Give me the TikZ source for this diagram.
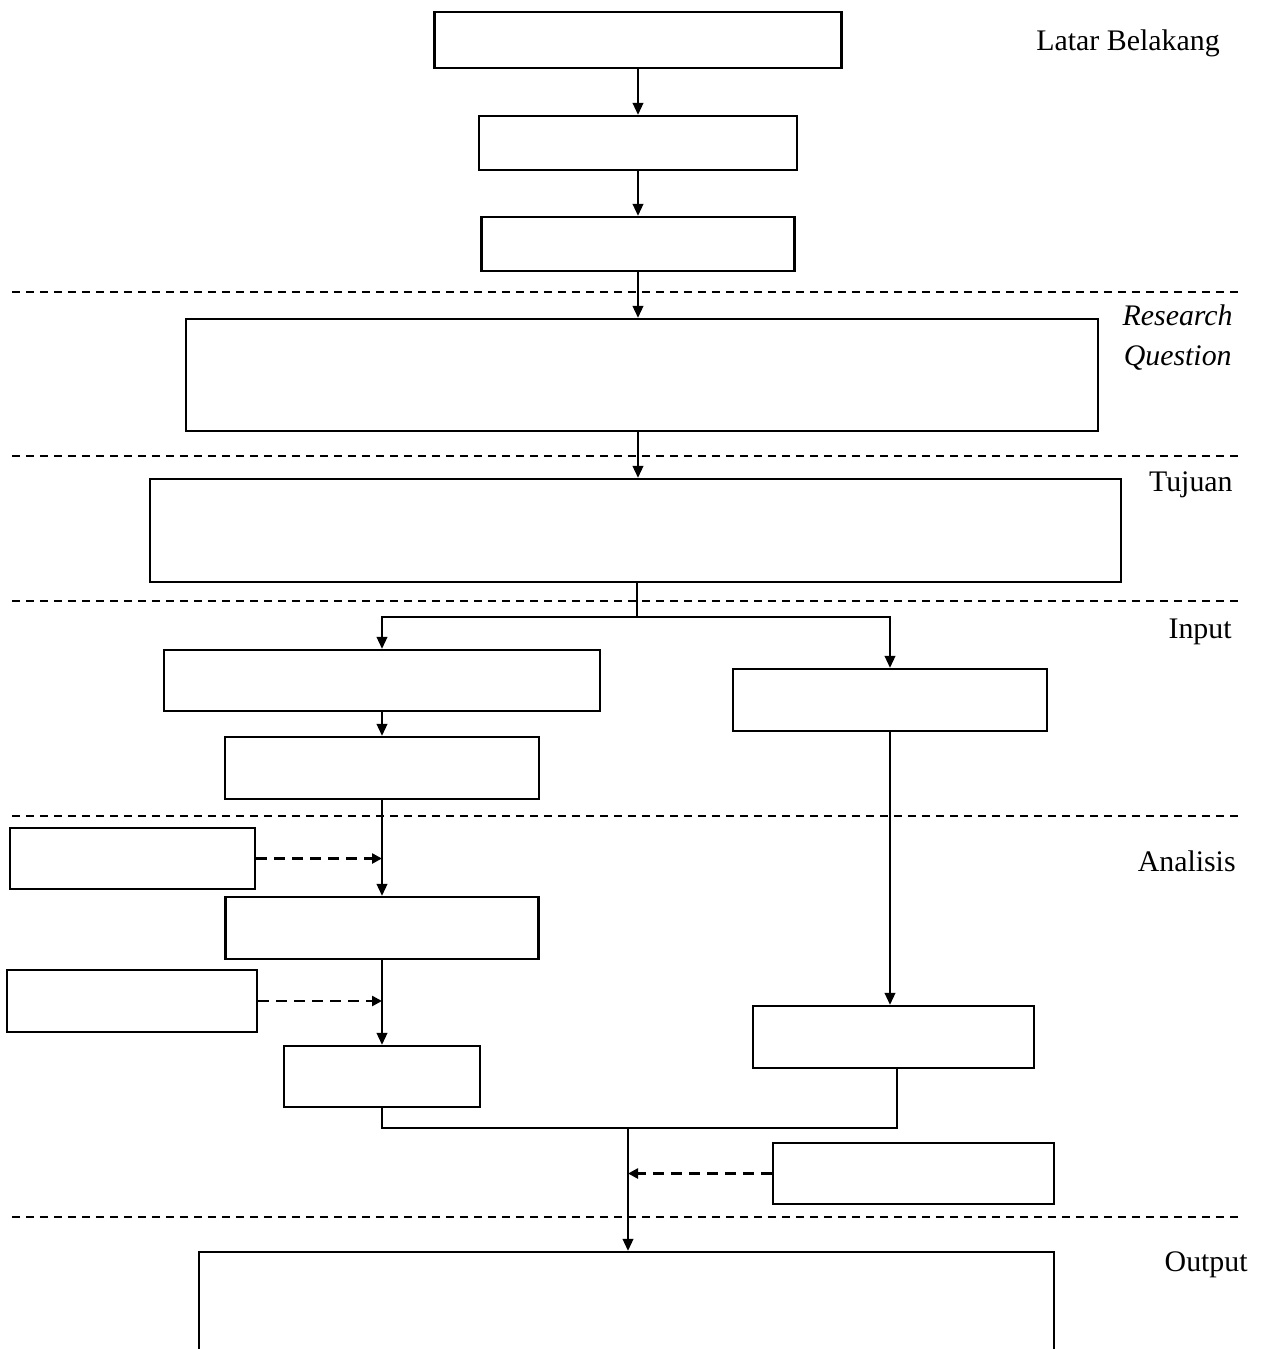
\documentclass[tikz,border=0pt]{standalone}
\usepackage{fontspec}
\setmainfont{Liberation Serif}
\usetikzlibrary{arrows.meta}
\begin{document}
\begin{tikzpicture}[x=0.02cm, y=-0.02cm]
\tikzstyle{box}=[draw, rectangle, line width=1.3pt, inner sep=0pt, fill=none]
\tikzstyle{lbl}=[draw=none, fill=none, inner sep=0pt, anchor=base east, font=\fontsize{17}{23}\selectfont]
\tikzstyle{arr}=[line width=1.3pt, -{Triangle[length=2.4mm,width=2.1mm]}]
\tikzstyle{darr}=[line width=1.5pt, dash pattern=on 0.22cm off 0.14cm, -{Triangle[length=2mm,width=2mm]}]
\tikzstyle{sep}=[line width=0.9pt, dash pattern=on 0.16cm off 0.12cm]
\clip (0,0) rectangle (1265,1349);

% separators
\foreach \y in {292,456,601,816,1217}
  \draw[sep] (12,\y) -- (1240,\y);

\node[box, minimum width=8.14cm, minimum height=1.12cm] (latar) at (638,40) {};
\node[box, minimum width=6.36cm, minimum height=1.08cm] (lb2) at (638,143) {};
\node[box, minimum width=6.26cm, minimum height=1.08cm] (lb3) at (638,244) {};
\node[box, minimum width=18.24cm, minimum height=2.24cm] (rq) at (642,375) {};
\node[box, minimum width=19.42cm, minimum height=2.06cm] (tuj) at (635.5,530.5) {};

\node[box, minimum width=8.72cm, minimum height=1.22cm] (inL) at (382,680.5) {};
\node[box, minimum width=6.28cm, minimum height=1.24cm] (inR) at (890,700) {};
\node[box, minimum width=6.28cm, minimum height=1.24cm] (inL2) at (382,768) {};

\node[box, minimum width=4.9cm, minimum height=1.22cm] (sA) at (132.5,858.5) {};
\node[box, minimum width=6.26cm, minimum height=1.24cm] (an1) at (382,928) {};
\node[box, minimum width=5cm, minimum height=1.24cm] (sB) at (132,1001) {};
\node[box, minimum width=3.92cm, minimum height=1.22cm] (an2) at (382,1076.5) {};
\node[box, minimum width=5.62cm, minimum height=1.24cm] (anR) at (893.5,1037) {};
\node[box, minimum width=5.62cm, minimum height=1.22cm] (sC) at (913.5,1173.5) {};

\node[box, minimum width=17.1cm, minimum height=4cm] (out) at (626.5,1352) {};

% labels
\node[lbl] (tLatar) at (1220,50) {Latar Belakang};
\node[lbl] (tRq1) at (1233,325) {\textit{Research}};
\node[lbl] (tRq2) at (1232,365) {\textit{Question}};
\node[lbl] (tTuj) at (1233,491) {Tujuan};
\node[lbl] (tIn) at (1232,638) {Input};
\node[lbl] (tAn) at (1236,871) {Analisis};
\node[lbl] (tOut) at (1248,1271) {Output};

\coordinate (split) at (637,617);
\coordinate (merge) at (628,1128);
\coordinate (rjoin) at (897,1068);

\draw[arr] (latar.south) -- (lb2.north);
\draw[arr] (lb2.south) -- (lb3.north);
\draw[arr] (lb3.south) -- (lb3.south |- rq.north);
\draw[arr] (lb3.south |- rq.south) -- (lb3.south |- tuj.north);
\draw[line width=1.3pt] (split |- tuj.south) -- (split);
\draw[arr] (split) -| (inL.north);
\draw[arr] (split) -| (inR.north);

\draw[arr] (inL.south) -- (inL2.north);
\draw[arr] (inL2.south) -- (an1.north);
\draw[darr] (sA.east) -- (sA.east -| inL2.south);
\draw[arr] (an1.south) -- (an2.north);
\draw[darr] (sB.east) -- (sB.east -| an1.south);
\draw[arr] (inR.south) -- (inR.south |- anR.north);

\draw[line width=1.3pt] (an2.south) |- (merge) -| (rjoin);
\draw[arr] (merge) -- (merge |- out.north);
\draw[darr] (sC.west) -- (sC.west -| merge);
\end{tikzpicture}
\end{document}
